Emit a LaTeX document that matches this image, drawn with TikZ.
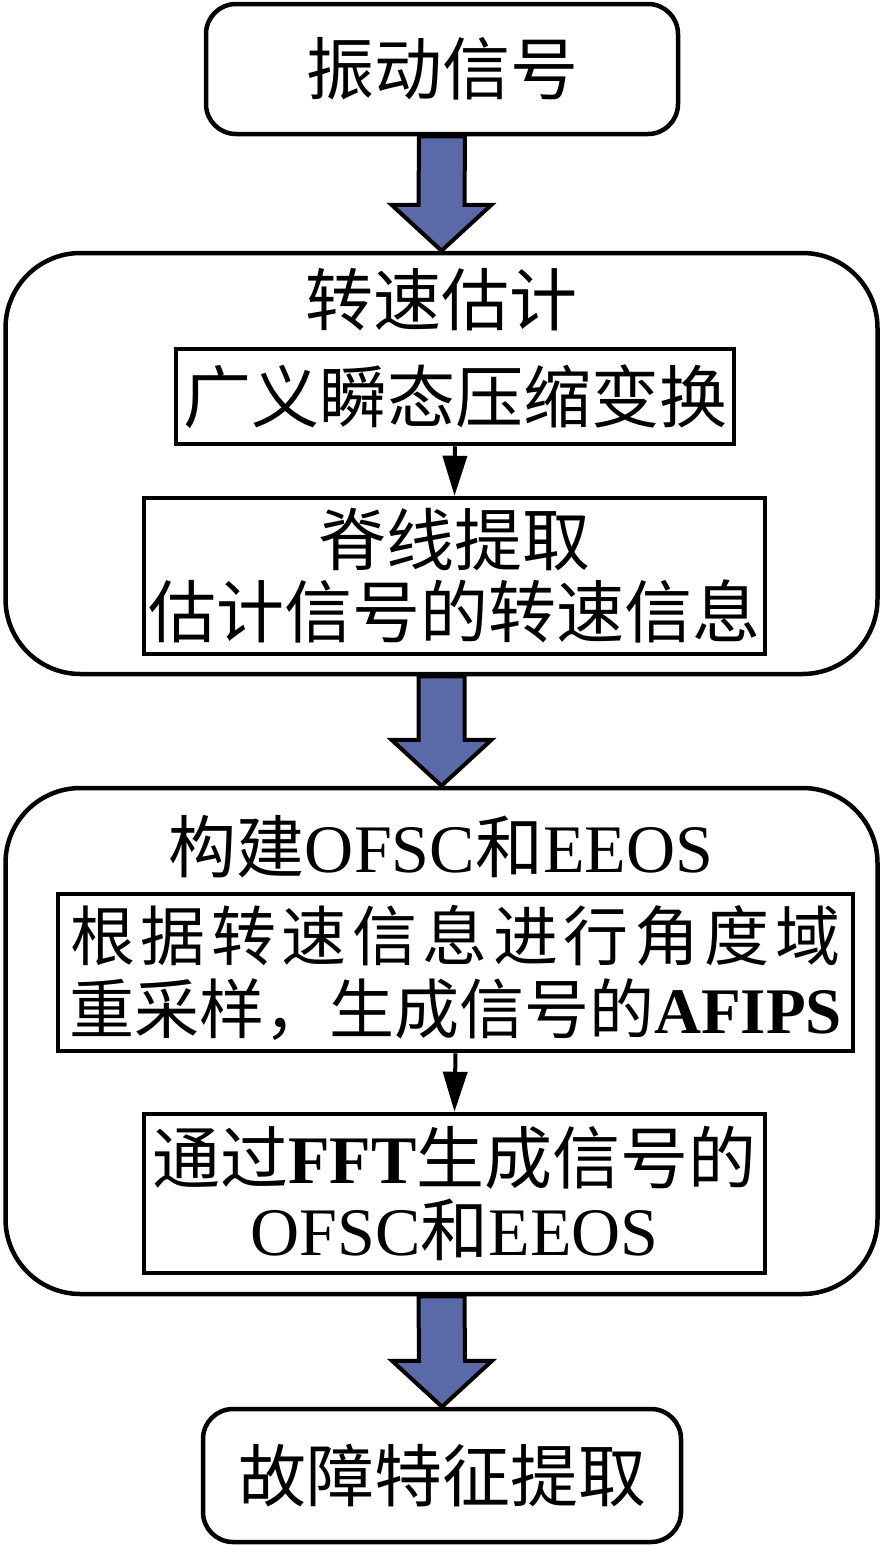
\documentclass[tikz,border=0pt]{standalone}
\usepackage{fontspec}
\setmainfont{Noto Sans CJK SC}
\newfontfamily\lat{Liberation Serif}
\usepackage{tikz}
\usetikzlibrary{
  arrows.meta,
  calc,
  positioning}
\definecolor{arrblue}{RGB}{90,106,168}
\tikzset{
  termbox/.style={draw,line width=4.5pt,rounded corners=30pt,minimum width=472pt,minimum height=130pt},
  groupbox/.style={draw,line width=4.5pt,rounded corners=75pt,minimum width=872pt},
  stepbox/.style={draw,line width=4.5pt,align=center,inner sep=0pt},
  blockarr/.style={draw,line width=4pt,fill=arrblue,line join=miter},
  thinarr/.style={line width=4pt,-{Triangle[length=40pt,width=24pt]}}
}
\newcommand{\blockarrow}[2]{%
  \draw[blockarr] ($(#1.south)+(-23,0)$) -- ($(#2.north)+(-23,-46)$)
    -- ($(#2.north)+(-50,-46)$) -- (#2.north) -- ($(#2.north)+(50,-46)$)
    -- ($(#2.north)+(23,-46)$) -- ($(#1.south)+(23,0)$) -- cycle;}

\begin{document}
\begin{tikzpicture}[x=1pt,y=-1pt,every node/.style={font=\fontsize{68pt}{72pt}\selectfont}]
            \useasboundingbox (0,0) rectangle (882,1545);
            \node[termbox] (sig) at (442,69) {振动信号};
            % 转速估计
            \node[groupbox,minimum height=421pt] (est) at (441.5,463.5) {};
            \node (estt) at (441,300) {转速估计};
            \node[stepbox,minimum width=558pt,minimum height=95pt] (gstct) at (455,396.5) {广义瞬态压缩变换};
            \node[stepbox,minimum width=621pt,minimum height=156pt] (ridge) at (454.5,576) {脊线提取\\估计信号的转速信息};
            % 构建OFSC和EEOS
            \node[groupbox,minimum height=506pt] (feat) at (441.5,1041) {};
            \node (featt) at (441,847) {构建{\lat OFSC}和{\lat EEOS}};
            \node[stepbox,minimum width=795pt,minimum height=157pt,font=\fontsize{65pt}{73pt}\selectfont] (resamp) at (455.5,972.5)
              {\makebox[770pt][s]{根\hfil 据\hfil 转\hfil 速\hfil 信\hfil 息\hfil 进\hfil 行\hfil 角\hfil 度\hfil 域}\\重采样，生成信号的{\lat\bfseries AFIPS}};
            \node[stepbox,minimum width=621pt,minimum height=159pt] (fft) at (454.5,1193.5) {通过{\lat\bfseries FFT}生成信号的\\{\lat OFSC}和{\lat EEOS}};
            \node[termbox,minimum width=478pt,minimum height=133pt] (fault) at (442,1475.5) {故障特征提取};
            \draw[thinarr] (gstct.south) -- (ridge.north);
            \draw[thinarr] (resamp.south) -- (fft.north);
            \blockarrow{sig}{est}
            \blockarrow{est}{feat}
            \blockarrow{feat}{fault}
        \end{tikzpicture}
\end{document}
